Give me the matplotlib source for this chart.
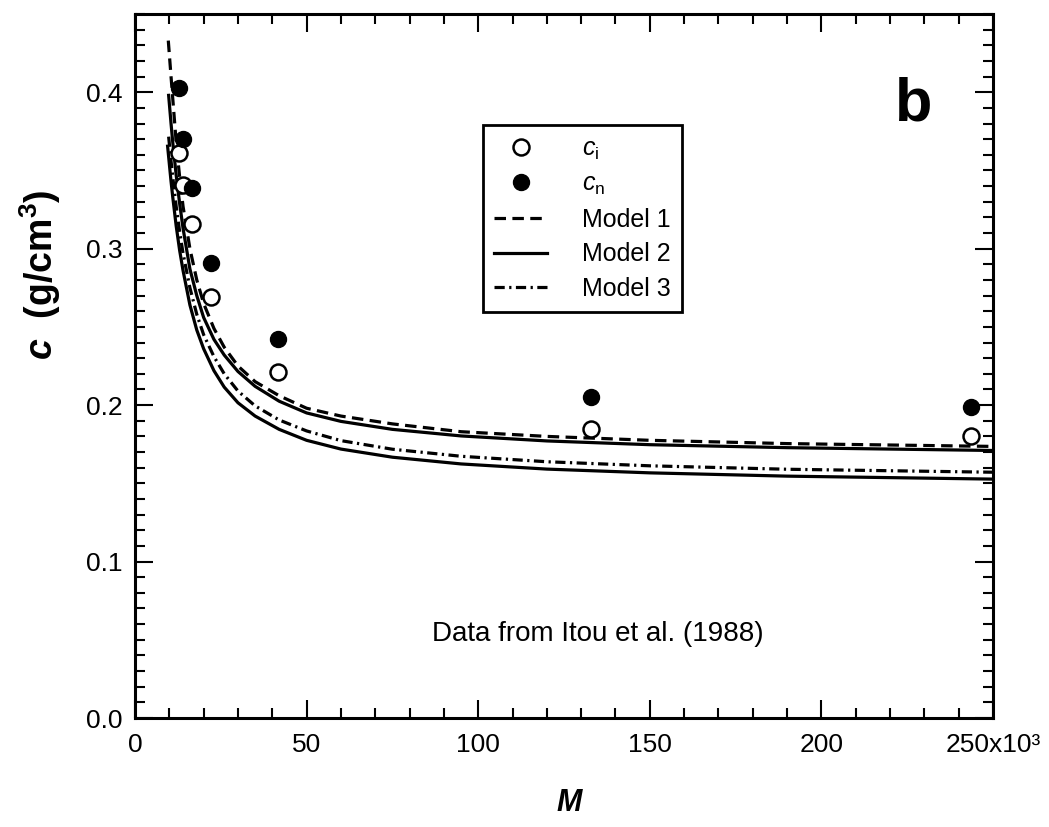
import matplotlib
matplotlib.use("Agg")
import matplotlib.pyplot as plt
from matplotlib.ticker import MultipleLocator, FixedLocator, FixedFormatter

plt.rcParams['font.family'] = ['Liberation Sans', 'DejaVu Sans']
plt.rcParams['mathtext.fontset'] = 'custom'
plt.rcParams['mathtext.rm'] = 'Liberation Sans'
plt.rcParams['mathtext.it'] = 'Liberation Sans:italic'
plt.rcParams['mathtext.bf'] = 'Liberation Sans:bold'
plt.rcParams['mathtext.bfit'] = 'Liberation Sans:italic:bold'

# ---- data (M in units of 10^3) ----
M_data = [12.7, 13.9, 16.5, 22.1, 41.7, 133.0, 243.5]
c_i = [0.361, 0.341, 0.316, 0.269, 0.221, 0.185, 0.180]
c_n = [0.403, 0.370, 0.339, 0.291, 0.242, 0.205, 0.199]

model1_M = [9.7, 10.5, 11, 12, 13, 14, 16, 18, 20, 23, 26, 30, 35, 42, 50, 60, 75, 95, 120, 150, 190, 250]
model1_c = [0.433, 0.410, 0.396, 0.368, 0.346, 0.327, 0.300, 0.280, 0.265, 0.249, 0.237, 0.225,
            0.215, 0.206, 0.198, 0.193, 0.188, 0.183, 0.180, 0.1775, 0.1754, 0.1736]

model2u_M = [9.8, 10.5, 11, 12, 13, 14, 16, 18, 20, 23, 26, 30, 35, 42, 50, 60, 75, 95, 120, 150, 190, 250]
model2u_c = [0.398, 0.380, 0.368, 0.347, 0.329, 0.313, 0.287, 0.270, 0.256, 0.242, 0.232, 0.2215,
             0.212, 0.2025, 0.1950, 0.1896, 0.1845, 0.1803, 0.1771, 0.1747, 0.1728, 0.171]

model3_M = [9.8, 10.5, 11, 12, 13, 14, 16, 18, 20, 23, 26, 30, 35, 42, 50, 60, 75, 95, 120, 150, 190, 250]
model3_c = [0.3716, 0.356, 0.346, 0.327, 0.311, 0.297, 0.275, 0.258, 0.245, 0.231, 0.220, 0.209,
            0.1995, 0.1905, 0.1835, 0.1773, 0.1718, 0.1673, 0.1638, 0.1612, 0.159, 0.1571]

model2l_M = [9.5, 10.5, 11, 12, 13, 14, 16, 18, 20, 23, 26, 30, 35, 42, 50, 60, 75, 95, 120, 150, 190, 250]
model2l_c = [0.3655, 0.343, 0.333, 0.3145, 0.299, 0.286, 0.264, 0.248, 0.236, 0.222, 0.2115, 0.2015,
             0.193, 0.1845, 0.1775, 0.1719, 0.1667, 0.1624, 0.1591, 0.1567, 0.1546, 0.1527]

x_ticks = [0, 50, 100, 150, 200, 250]
x_ticklabels = ['0', '50', '100', '150', '200', '250x10\u00b3']
y_ticks = [0.0, 0.1, 0.2, 0.3, 0.4]
y_ticklabels = ['0.0', '0.1', '0.2', '0.3', '0.4']

# ---- figure ----
fig = plt.figure(figsize=(10.49, 8.27), dpi=100)
ax = fig.add_axes([135/1049, 1 - 718/827, 858/1049, 704/827])

lw = 2.3
ax.plot(model1_M, model1_c, color='black', lw=lw, linestyle=(0, (3.6, 2.0)), label='Model 1', zorder=3)
ax.plot(model2u_M, model2u_c, color='black', lw=lw, linestyle='-', label='Model 2', zorder=3)
ax.plot(model3_M, model3_c, color='black', lw=lw, linestyle=(0, (3.2, 1.4, 0.7, 1.4)), label='Model 3', zorder=3)
ax.plot(model2l_M, model2l_c, color='black', lw=lw, linestyle='-', zorder=3)

ax.plot(M_data, c_i, linestyle='none', marker='o', markersize=11.5, markerfacecolor='white',
        markeredgecolor='black', markeredgewidth=1.8, label=r'$c_\mathrm{i}$', zorder=5)
ax.plot(M_data, c_n, linestyle='none', marker='o', markersize=11.5, markerfacecolor='black',
        markeredgecolor='black', markeredgewidth=1.0, label=r'$c_\mathrm{n}$', zorder=5)

ax.set_xlim(0, 250)
ax.set_ylim(0, 0.45)

ax.xaxis.set_major_locator(FixedLocator(x_ticks))
ax.xaxis.set_major_formatter(FixedFormatter(x_ticklabels))
ax.xaxis.set_minor_locator(MultipleLocator(10))
ax.yaxis.set_major_locator(FixedLocator(y_ticks))
ax.yaxis.set_major_formatter(FixedFormatter(y_ticklabels))
ax.yaxis.set_minor_locator(MultipleLocator(0.01))

ax.tick_params(which='both', direction='in', top=True, right=True, width=1.5, color='black')
ax.tick_params(which='major', length=13)
ax.tick_params(which='minor', length=7)
ax.tick_params(axis='x', which='major', labelsize=19, pad=11)
ax.tick_params(axis='y', which='major', labelsize=19, pad=9)
for s in ax.spines.values():
    s.set_linewidth(2.2)

handles, labels = ax.get_legend_handles_labels()
order = [labels.index(l) for l in [r'$c_\mathrm{i}$', r'$c_\mathrm{n}$', 'Model 1', 'Model 2', 'Model 3']]
leg = ax.legend([handles[i] for i in order], [labels[i] for i in order],
                loc='upper left', bbox_to_anchor=(0.4056, 0.842), borderaxespad=0,
                fontsize=18, frameon=True, fancybox=False, framealpha=1, edgecolor='black',
                handlelength=2.1, handletextpad=1.4, labelspacing=0.42, borderpad=0.45)
leg.get_frame().set_linewidth(2.0)

ax.text(0.907, 0.871, 'b', transform=ax.transAxes, fontsize=44, fontweight='bold',
        ha='center', va='center')
ax.text((598 - 135) / 858, (718 - 634) / 704, 'Data from Itou et al. (1988)', transform=ax.transAxes,
        fontsize=20, ha='center', va='center')

fig.text(40/1049, 1 - 275/827, r'$\mathbfit{c}$  (g/cm$^{\mathbf{3}}$)', rotation=90,
         fontsize=27, fontweight='bold', ha='center', va='center')
fig.text(570/1049, 1 - 803/827, r'$\mathbfit{M}$', fontsize=22, ha='center', va='center')

fig.savefig('out.png', dpi=100)
